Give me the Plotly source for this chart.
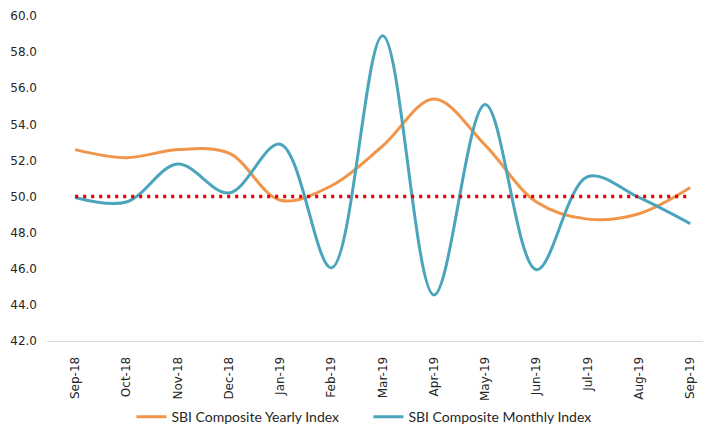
import plotly.graph_objects as go

months = ["Sep-18", "Oct-18", "Nov-18", "Dec-18", "Jan-19", "Feb-19", "Mar-19",
          "Apr-19", "May-19", "Jun-19", "Jul-19", "Aug-19", "Sep-19"]
yearly = [52.6, 52.15, 52.6, 52.4, 49.8, 50.6, 52.8, 55.4, 52.85, 49.7, 48.75, 49.05, 50.5]
monthly = [49.95, 49.7, 51.8, 50.2, 52.9, 46.05, 58.9, 44.55, 55.1, 45.95, 51.1, 49.95, 48.5]
threshold = [50.0] * len(months)
yticks = [42, 44, 46, 48, 50, 52, 54, 56, 58, 60]

fig = go.Figure()
fig.add_trace(go.Scatter(x=months, y=yearly, mode="lines", name="SBI Composite Yearly Index",
                         line=dict(color="#F0954A", width=3, shape="spline", smoothing=1.0)))
fig.add_trace(go.Scatter(x=months, y=monthly, mode="lines", name="SBI Composite Monthly Index",
                         line=dict(color="#4AA5BC", width=3, shape="spline", smoothing=1.0)))
fig.add_trace(go.Scatter(x=months, y=threshold, mode="lines", showlegend=False,
                         line=dict(color="#E00000", width=3.5, dash="3px,5px")))

fig.update_layout(
    width=703, height=426,
    margin=dict(l=47, r=0, t=16, b=85, autoexpand=False),
    paper_bgcolor="white", plot_bgcolor="white",
    font=dict(family="DejaVu Sans", size=12, color="#262626"),
    xaxis=dict(type="category", range=[-0.55, 12.25], showgrid=False, showline=True,
               linecolor="#D9D9D9", linewidth=1, ticks="", tickangle=-90,
               ticklabelstandoff=10, zeroline=False, automargin=False),
    yaxis=dict(range=[42, 60], tickvals=yticks, ticktext=[f"{v:.1f}" for v in yticks],
               showgrid=False, showline=False, ticks="", zeroline=False,
               ticklabelstandoff=9, automargin=False),
    legend=dict(orientation="h", x=0.49, xanchor="center", y=-0.234, yanchor="middle",
                font=dict(family="Lato", size=14, color="#262626"),
                entrywidth=192, entrywidthmode="pixels"),
)
fig.write_html("out.html")
